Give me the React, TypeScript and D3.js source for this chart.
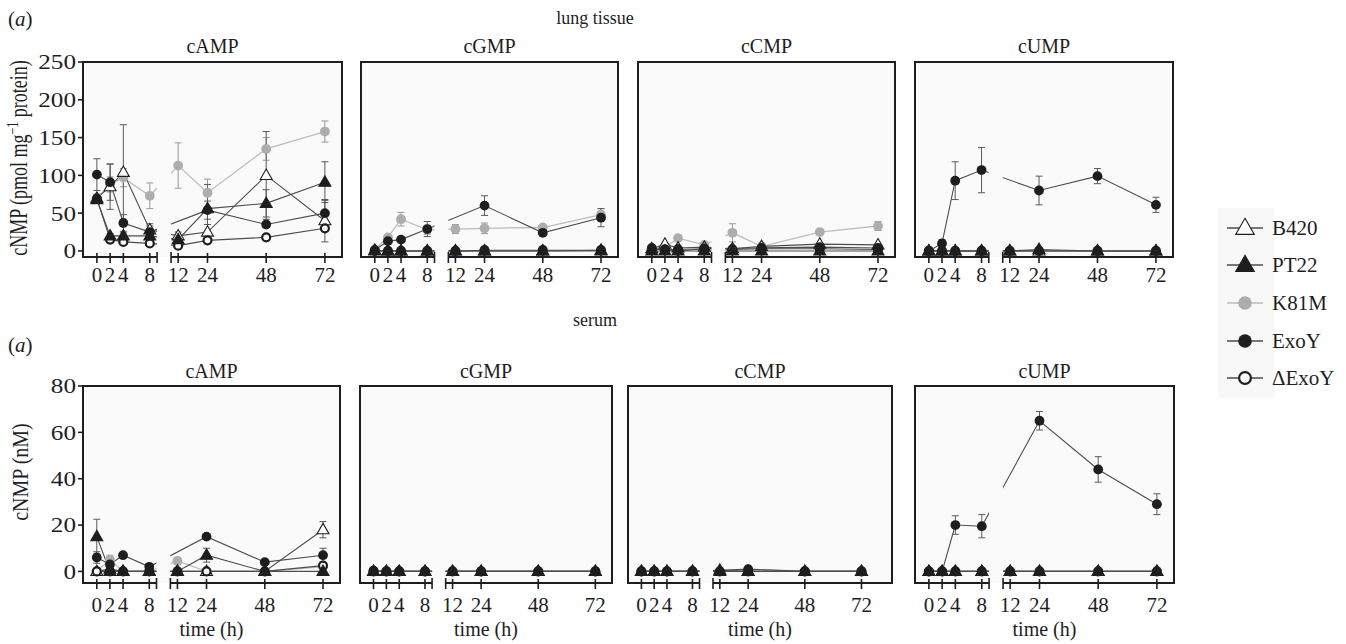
import React from "react";
import * as d3 from "d3";

// ---------- categories / ticks ----------
const times = [0, 2, 4, 8, 12, 24, 48, 72];
const xTickLabels = ["0", "2", "4", "8", "12", "24", "48", "72"];
const analytes = ["cAMP", "cGMP", "cCMP", "cUMP"];
const strains = ["B420", "PT22", "K81M", "ExoY", "\u0394ExoY"];
const lungYTicks = [0, 50, 100, 150, 200, 250];
const serumYTicks = [0, 20, 40, 60, 80];

// ---------- lung tissue (pmol mg-1 protein) ----------
const lungAMP_B420 = [70, 85, 104, 28, 20, 25, 100, 40];
const lungAMP_B420_err = [5, 30, 63, 8, 5, 10, 58, 28];
const lungAMP_PT22 = [68, 20, 20, 20, 15, 56, 63, 91];
const lungAMP_PT22_err = [5, 3, 4, 4, 3, 32, 18, 27];
const lungAMP_K81M = [70, 88, 97, 73, 113, 77, 135, 158];
const lungAMP_K81M_err = [5, 10, 12, 17, 30, 18, 15, 14];
const lungAMP_ExoY = [101, 91, 37, 25, null, 54, 35, 50];
const lungAMP_ExoY_err = [21, 24, 11, 8, null, 12, 4, 17];
const lungAMP_dExoY = [69, 15, 12, 10, 7, 14, 18, 30];
const lungAMP_dExoY_err = [3, 2, 2, 2, 2, 2, 2, 3];

const lungGMP_B420 = [1, 0, 0, 0, 0, 0, 0, 1];
const lungGMP_B420_err = [0, 0, 0, 0, 0, 0, 0, 0];
const lungGMP_PT22 = [0, 0, 0, 0, 0, 0, 0, 0];
const lungGMP_PT22_err = [0, 0, 0, 0, 0, 0, 0, 0];
const lungGMP_K81M = [2, 18, 42, 28, 29, 30, 31, 48];
const lungGMP_K81M_err = [1, 2, 9, 6, 6, 7, 3, 8];
const lungGMP_ExoY = [1, 13, 15, 29, null, 60, 24, 44];
const lungGMP_ExoY_err = [1, 2, 2, 10, null, 13, 3, 12];
const lungGMP_dExoY = [0, 0, 0, 0, 0, 1, 1, 1];
const lungGMP_dExoY_err = [0, 0, 0, 0, 0, 0, 0, 0];

const lungCMP_B420 = [3, 9, 4, 5, 3, 6, 9, 8];
const lungCMP_B420_err = [1, 1, 1, 1, 1, 1, 1, 1];
const lungCMP_PT22 = [0, 0, 0, 0, 0, 0, 0, 0];
const lungCMP_PT22_err = [0, 0, 0, 0, 0, 0, 0, 0];
const lungCMP_K81M = [2, 5, 17, 8, 24, 6, 25, 33];
const lungCMP_K81M_err = [1, 1, 4, 2, 12, 2, 3, 6];
const lungCMP_ExoY = [4, 1, 0, 3, null, 4, 5, 4];
const lungCMP_ExoY_err = [1, 1, 1, 1, null, 1, 1, 1];
const lungCMP_dExoY = [2, 2, 2, 3, 2, 3, 3, 2];
const lungCMP_dExoY_err = [0, 0, 0, 0, 0, 0, 0, 0];

const lungUMP_B420 = [0, 0, 0, 0, 0, 0, 0, 0];
const lungUMP_B420_err = [0, 0, 0, 0, 0, 0, 0, 0];
const lungUMP_PT22 = [0, 0, 0, 0, 0, 2, 0, 0];
const lungUMP_PT22_err = [0, 0, 0, 0, 0, 0, 0, 0];
const lungUMP_K81M = [0, 0, 0, 0, 0, 0, 0, 0];
const lungUMP_K81M_err = [0, 0, 0, 0, 0, 0, 0, 0];
const lungUMP_ExoY = [0, 10, 93, 107, null, 80, 99, 61];
const lungUMP_ExoY_err = [1, 5, 25, 30, null, 19, 10, 10];
const lungUMP_dExoY = [0, 0, 0, 0, 0, 0, 0, 0];
const lungUMP_dExoY_err = [0, 0, 0, 0, 0, 0, 0, 0];

// ---------- serum (nM) ----------
const serumAMP_B420 = [0, 1, 0, 0, 0, 0, 0, 18];
const serumAMP_B420_err = [0, 0, 0, 0, 0, 0, 0, 3.5];
const serumAMP_PT22 = [15, 0, 0, 0, 0, 7, 0, 0];
const serumAMP_PT22_err = [7.5, 0, 0, 0, 0, 3, 0, 0];
const serumAMP_K81M = [0, 5, 0, 0, 4.5, 0, 0, 2];
const serumAMP_K81M_err = [0, 2, 0, 0, 1.5, 0, 0, 0];
const serumAMP_ExoY = [6, 3, 7, 2, null, 15, 4, 7];
const serumAMP_ExoY_err = [2.5, 1, 0.5, 0.5, null, 1, 0.5, 3];
const serumAMP_dExoY = [0, 0, 0, 0, 0, 0, 0, 2.5];
const serumAMP_dExoY_err = [0, 0, 0, 0, 0, 0, 0, 0];

const serumGMP_B420 = [0, 0, 0, 0, 0, 0, 0, 0];
const serumGMP_B420_err = [0, 0, 0, 0, 0, 0, 0, 0];
const serumGMP_PT22 = [0, 0, 0, 0, 0, 0, 0, 0];
const serumGMP_PT22_err = [0, 0, 0, 0, 0, 0, 0, 0];
const serumGMP_K81M = [0, 0, 0, 0, 0, 0, 0, 0];
const serumGMP_K81M_err = [0, 0, 0, 0, 0, 0, 0, 0];
const serumGMP_ExoY = [0.3, 0, 0, 0, null, 0, 0, 0];
const serumGMP_ExoY_err = [0, 0, 0, 0, null, 0, 0, 0];
const serumGMP_dExoY = [0, 0, 0, 0, 0, 0, 0, 0];
const serumGMP_dExoY_err = [0, 0, 0, 0, 0, 0, 0, 0];

const serumCMP_B420 = [0, 0, 0, 0, 0.5, 0, 0, 0];
const serumCMP_B420_err = [0, 0, 0, 0, 0, 0, 0, 0];
const serumCMP_PT22 = [0, 0, 0, 0, 0, 0, 0, 0];
const serumCMP_PT22_err = [0, 0, 0, 0, 0, 0, 0, 0];
const serumCMP_K81M = [0, 0, 0, 0, 0, 0, 0, 0];
const serumCMP_K81M_err = [0, 0, 0, 0, 0, 0, 0, 0];
const serumCMP_ExoY = [0, 0, 0, 0, null, 1, 0, 0];
const serumCMP_ExoY_err = [0, 0, 0, 0, null, 0, 0, 0];
const serumCMP_dExoY = [0, 0, 0, 0, 0, 0, 0, 0];
const serumCMP_dExoY_err = [0, 0, 0, 0, 0, 0, 0, 0];

const serumUMP_B420 = [0, 0, 0, 0, 0, 0, 0, 0];
const serumUMP_B420_err = [0, 0, 0, 0, 0, 0, 0, 0];
const serumUMP_PT22 = [0, 0, 0, 0, 0, 0, 0, 0];
const serumUMP_PT22_err = [0, 0, 0, 0, 0, 0, 0, 0];
const serumUMP_K81M = [0, 0, 0, 0, 0, 0, 0, 0];
const serumUMP_K81M_err = [0, 0, 0, 0, 0, 0, 0, 0];
const serumUMP_ExoY = [0, 0, 20, 19.5, null, 65, 44, 29];
const serumUMP_ExoY_err = [0, 0, 4, 5, null, 4, 5.5, 4.5];
const serumUMP_dExoY = [0, 0, 0, 0, 0, 0, 0, 0];
const serumUMP_dExoY_err = [0, 0, 0, 0, 0, 0, 0, 0];

// assemble (order = strains)
const lungData = [
  [lungAMP_B420, lungAMP_PT22, lungAMP_K81M, lungAMP_ExoY, lungAMP_dExoY],
  [lungGMP_B420, lungGMP_PT22, lungGMP_K81M, lungGMP_ExoY, lungGMP_dExoY],
  [lungCMP_B420, lungCMP_PT22, lungCMP_K81M, lungCMP_ExoY, lungCMP_dExoY],
  [lungUMP_B420, lungUMP_PT22, lungUMP_K81M, lungUMP_ExoY, lungUMP_dExoY],
];
const lungErr = [
  [lungAMP_B420_err, lungAMP_PT22_err, lungAMP_K81M_err, lungAMP_ExoY_err, lungAMP_dExoY_err],
  [lungGMP_B420_err, lungGMP_PT22_err, lungGMP_K81M_err, lungGMP_ExoY_err, lungGMP_dExoY_err],
  [lungCMP_B420_err, lungCMP_PT22_err, lungCMP_K81M_err, lungCMP_ExoY_err, lungCMP_dExoY_err],
  [lungUMP_B420_err, lungUMP_PT22_err, lungUMP_K81M_err, lungUMP_ExoY_err, lungUMP_dExoY_err],
];
const serumData = [
  [serumAMP_B420, serumAMP_PT22, serumAMP_K81M, serumAMP_ExoY, serumAMP_dExoY],
  [serumGMP_B420, serumGMP_PT22, serumGMP_K81M, serumGMP_ExoY, serumGMP_dExoY],
  [serumCMP_B420, serumCMP_PT22, serumCMP_K81M, serumCMP_ExoY, serumCMP_dExoY],
  [serumUMP_B420, serumUMP_PT22, serumUMP_K81M, serumUMP_ExoY, serumUMP_dExoY],
];
const serumErr = [
  [serumAMP_B420_err, serumAMP_PT22_err, serumAMP_K81M_err, serumAMP_ExoY_err, serumAMP_dExoY_err],
  [serumGMP_B420_err, serumGMP_PT22_err, serumGMP_K81M_err, serumGMP_ExoY_err, serumGMP_dExoY_err],
  [serumCMP_B420_err, serumCMP_PT22_err, serumCMP_K81M_err, serumCMP_ExoY_err, serumCMP_dExoY_err],
  [serumUMP_B420_err, serumUMP_PT22_err, serumUMP_K81M_err, serumUMP_ExoY_err, serumUMP_dExoY_err],
];

// ---------- styling ----------
const FONT = "'Liberation Serif', 'Times New Roman', serif";
const INK = "#1e1e1e";
const LINE = "#4d4d4d";
const GREY = "#adadad";
const GREY_LINE = "#bdbdbd";
const ERR = "#5a5a5a";
const PANEL_BG = "#fafafa";
const TICK_FS = 21;

const lineOrder = [2, 0, 1, 4, 3];
const markerOrder = [2, 0, 4, 3, 1];

// [frame left, scale right, frame right]
const lungPanelsX = [
  [83, 342, 342],
  [361, 618, 618],
  [638, 895, 895],
  [915, 1173, 1173],
];
const serumPanelsX = [
  [83, 340, 340],
  [360, 612, 612],
  [628, 878, 892],
  [915, 1174, 1174],
];

function makeX(L: number, R: number) {
  const W = R - L;
  const b1 = L + 0.286 * W;
  const b2 = L + 0.34 * W;
  const s1 = d3.scaleLinear().domain([-2.1, 9.1]).range([L, b1]);
  const s2 = d3.scaleLinear().domain([9.1, 79]).range([b2, R]);
  const f = (t: number) => (t <= 9.1 ? s1(t) : s2(t));
  return { f, b1, b2 };
}

function Marker({ kind, cx, cy, big }: { kind: number; cx: number; cy: number; big?: boolean }) {
  const r = big ? 6.8 : 4.9;
  const triArea = big ? 150 : 62;
  if (kind === 0 || kind === 1) {
    const p = d3.symbol().type(d3.symbolTriangle).size(triArea)() as string;
    return (
      <path
        d={p}
        transform={`translate(${cx},${cy + (big ? 1 : 0.6)})`}
        fill={kind === 0 ? "#fff" : INK}
        stroke={INK}
        strokeWidth={1.1}
        strokeLinejoin="miter"
      />
    );
  }
  if (kind === 2) return <circle cx={cx} cy={cy} r={r} fill={GREY} />;
  if (kind === 3) return <circle cx={cx} cy={cy} r={r} fill={INK} />;
  return <circle cx={cx} cy={cy} r={r - 0.9} fill={PANEL_BG} stroke={INK} strokeWidth={2.2} />;
}

type PanelProps = {
  id: string;
  L: number;
  R: number;
  FR: number;
  yTop: number;
  yBot: number;
  yDomain: [number, number];
  data: (number | null)[][];
  errs: (number | null)[][];
  title: string;
  titleY: number;
  showY: boolean;
  yTicks: number[];
  labelY: number;
  timeY?: number;
};

function Panel(p: PanelProps) {
  const x = makeX(p.L, p.R);
  const y = d3.scaleLinear().domain(p.yDomain).range([p.yBot, p.yTop]);
  const clipId = `clip-${p.id}`;
  const line = d3.line<[number, number]>();
  const cx = (p.L + p.FR) / 2;
  return (
    <g>
      <defs>
        <clipPath id={clipId}>
          <rect x={p.L} y={p.yTop} width={x.b1 - p.L} height={p.yBot - p.yTop} />
          <rect x={x.b2} y={p.yTop} width={p.FR - x.b2} height={p.yBot - p.yTop} />
        </clipPath>
      </defs>
      <rect x={p.L} y={p.yTop} width={p.FR - p.L} height={p.yBot - p.yTop} fill={PANEL_BG} />
      <text x={cx} y={p.titleY} textAnchor="middle" fontSize={20} fontFamily={FONT} fill={INK}>
        {p.title}
      </text>
      {/* lines */}
      <g clipPath={`url(#${clipId})`}>
        {lineOrder.map((si) => {
          const pts: [number, number][] = [];
          times.forEach((t, j) => {
            const v = p.data[si][j];
            if (v !== null && v !== undefined) pts.push([x.f(t), y(v)]);
          });
          return (
            <path
              key={si}
              d={line(pts) as string}
              fill="none"
              stroke={si === 2 ? GREY_LINE : LINE}
              strokeWidth={si === 2 ? 1.3 : 1.1}
            />
          );
        })}
      </g>
      {/* error bars */}
      {lineOrder.map((si) => (
        <g key={`e${si}`} stroke={si === 2 ? "#999" : ERR} strokeWidth={1}>
          {times.map((t, j) => {
            const v = p.data[si][j];
            const e = p.errs[si][j];
            if (v === null || v === undefined || !e) return null;
            const xx = x.f(t);
            const y1 = y(v + e);
            const y0 = y(Math.max(v - e, p.yDomain[0]));
            return (
              <g key={j}>
                <line x1={xx} x2={xx} y1={y1} y2={y0} />
                <line x1={xx - 3.5} x2={xx + 3.5} y1={y1} y2={y1} />
                <line x1={xx - 3.5} x2={xx + 3.5} y1={y0} y2={y0} />
              </g>
            );
          })}
        </g>
      ))}
      {/* markers */}
      {markerOrder.map((si) => (
        <g key={`m${si}`}>
          {times.map((t, j) => {
            const v = p.data[si][j];
            if (v === null || v === undefined) return null;
            return <Marker key={j} kind={si} cx={x.f(t)} cy={y(v)} />;
          })}
        </g>
      ))}
      {/* frame with broken bottom axis */}
      <path
        d={`M${x.b1},${p.yBot} L${p.L},${p.yBot} L${p.L},${p.yTop} L${p.FR},${p.yTop} L${p.FR},${p.yBot} L${x.b2},${p.yBot}`}
        fill="none"
        stroke={INK}
        strokeWidth={2}
      />
      <g stroke={INK} strokeWidth={1.6}>
        <line x1={x.b1} x2={x.b1} y1={p.yBot - 5} y2={p.yBot + 6} />
        <line x1={x.b2} x2={x.b2} y1={p.yBot - 5} y2={p.yBot + 6} />
        {times.map((t) => (
          <line key={t} x1={x.f(t)} x2={x.f(t)} y1={p.yBot - 4} y2={p.yBot + 6} />
        ))}
      </g>
      {times.map((t, i) => (
        <text
          key={t}
          x={x.f(t)}
          y={p.labelY}
          textAnchor="middle"
          fontSize={TICK_FS}
          fontFamily={FONT}
          fill={INK}
        >
          {xTickLabels[i]}
        </text>
      ))}
      {p.timeY !== undefined && (
        <text x={cx} y={p.timeY} textAnchor="middle" fontSize={20} fontFamily={FONT} fill={INK}>
          time (h)
        </text>
      )}
      {p.showY && (
        <g>
          {p.yTicks.map((v) => (
            <g key={v}>
              <line x1={p.L - 5} x2={p.L} y1={y(v)} y2={y(v)} stroke={INK} strokeWidth={1.6} />
              <text
                transform={`translate(${p.L - 7},${y(v)}) scale(1.2,1)`}
                dy="0.35em"
                textAnchor="end"
                fontSize={21}
                fontFamily={FONT}
                fill={INK}
              >
                {v}
              </text>
            </g>
          ))}
        </g>
      )}
    </g>
  );
}

function Legend() {
  const ys = [228, 265, 303, 341, 378];
  return (
    <g>
      <rect x={1218} y={208} width={56} height={190} fill="#f8f8f8" />
      {strains.map((s, i) => (
        <g key={s}>
          <line
            x1={1227}
            x2={1263}
            y1={ys[i]}
            y2={ys[i]}
            stroke={i === 2 ? GREY_LINE : LINE}
            strokeWidth={1.4}
          />
          <Marker kind={i} cx={1245} cy={ys[i]} big />
          <text x={1272} y={ys[i]} dy="0.35em" fontSize={21} fontFamily={FONT} fill={INK}>
            {s}
          </text>
        </g>
      ))}
    </g>
  );
}

export default function App() {
  return (
    <svg
      width={1346}
      height={644}
      style={{ position: "absolute", left: 0, top: 0, background: "#fff" }}
    >
      <rect width={1346} height={644} fill="#fff" />
      {/* lung tissue row */}
      <text x={8} y={26} fontSize={21} fontFamily={FONT} fill={INK}>
        (<tspan fontStyle="italic">a</tspan>)
      </text>
      <text x={595} y={24} textAnchor="middle" fontSize={18} fontFamily={FONT} fill={INK}>
        lung tissue
      </text>
      <text
        transform="translate(27,158) scale(1.35,1) rotate(-90)"
        textAnchor="middle"
        fontSize={18}
        fontFamily={FONT}
        fill={INK}
      >
        cNMP (pmol mg<tspan dy={-7} fontSize={12}>{"\u22121"}</tspan>
        <tspan dy={7}> protein)</tspan>
      </text>
      {analytes.map((a, i) => (
        <Panel
          key={`l${a}`}
          id={`l${i}`}
          L={lungPanelsX[i][0]}
          R={lungPanelsX[i][1]}
          FR={lungPanelsX[i][2]}
          yTop={62}
          yBot={257}
          yDomain={[-8, 250]}
          data={lungData[i]}
          errs={lungErr[i]}
          title={a}
          titleY={53}
          showY={i === 0}
          yTicks={lungYTicks}
          labelY={282}
        />
      ))}
      {/* serum row */}
      <text x={8} y={352} fontSize={21} fontFamily={FONT} fill={INK}>
        (<tspan fontStyle="italic">a</tspan>)
      </text>
      <text x={595} y={326} textAnchor="middle" fontSize={18} fontFamily={FONT} fill={INK}>
        serum
      </text>
      <text
        transform="translate(28,472) scale(1.2,1) rotate(-90)"
        textAnchor="middle"
        fontSize={20}
        fontFamily={FONT}
        fill={INK}
      >
        cNMP (nM)
      </text>
      {analytes.map((a, i) => (
        <Panel
          key={`s${a}`}
          id={`s${i}`}
          L={serumPanelsX[i][0]}
          R={serumPanelsX[i][1]}
          FR={serumPanelsX[i][2]}
          yTop={386}
          yBot={583}
          yDomain={[-5, 80]}
          data={serumData[i]}
          errs={serumErr[i]}
          title={a}
          titleY={378}
          showY={i === 0}
          yTicks={serumYTicks}
          labelY={612}
          timeY={636}
        />
      ))}
      <Legend />
    </svg>
  );
}
